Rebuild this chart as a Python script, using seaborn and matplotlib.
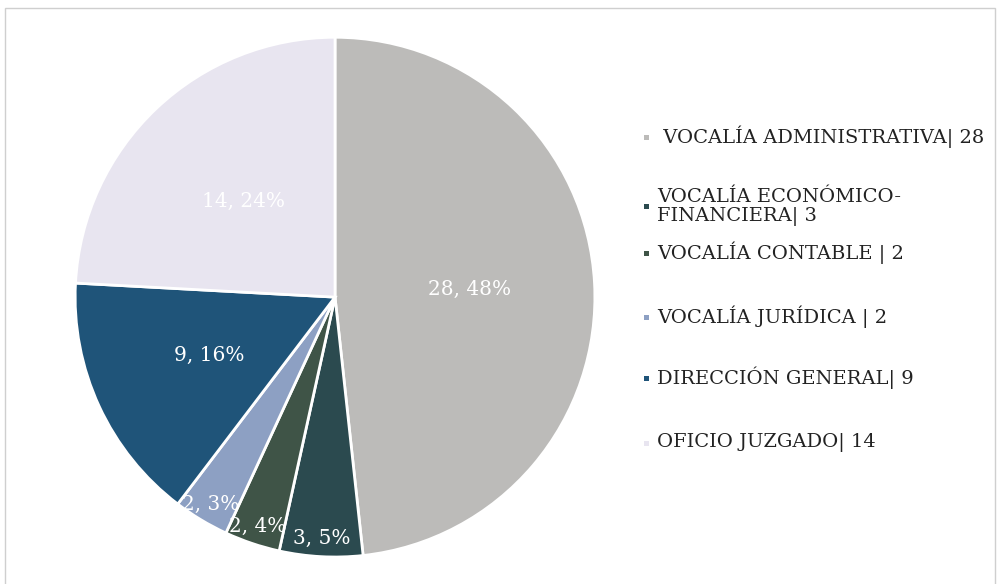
import matplotlib
matplotlib.use("Agg")
import matplotlib.pyplot as plt
import seaborn as sns
import numpy as np
from matplotlib.patches import Rectangle

sns.set_theme(style="white")
plt.rcParams['font.family'] = ['DejaVu Serif']

categories = [" VOCALÍA ADMINISTRATIVA| 28", "VOCALÍA ECONÓMICO-\nFINANCIERA| 3",
              "VOCALÍA CONTABLE | 2", "VOCALÍA JURÍDICA | 2",
              "DIRECCIÓN GENERAL| 9", "OFICIO JUZGADO| 14"]
values = [28, 3, 2, 2, 9, 14]
slice_labels = ["28, 48%", "3, 5%", "2, 4%", "2, 3%", "9, 16%", "14, 24%"]
colors = ["#bcbbb9", "#2b4a4f", "#3f5447", "#8da0c3", "#1f5479", "#e8e5f0"]

fig = plt.figure(figsize=(9.99, 5.84), dpi=100)
fig.patch.set_facecolor("white")
ax = fig.add_axes([0.0751, 0.0462, 0.5205, 0.890])
wedges, _ = ax.pie(values, colors=colors, startangle=90, counterclock=False,
                   wedgeprops=dict(edgecolor="white", linewidth=2))
ax.set_xlim(-1, 1)
ax.set_ylim(-1, 1)
ax.set_aspect("equal")
ax.axis("off")

label_r = [0.52, 0.93, 0.93, 0.93, 0.535, 0.51]
for w, lab, r in zip(wedges, slice_labels, label_r):
    ang = np.deg2rad((w.theta1 + w.theta2) / 2)
    ax.text(r * np.cos(ang), r * np.sin(ang), lab, ha="center", va="center",
            color="white", fontsize=14.5)

# legend
leg_y = [137, 207, 253, 317, 378, 443]
for cat, col, y in zip(categories, colors, leg_y):
    yf = 1 - y / 584
    fig.add_artist(Rectangle((644 / 999, yf - 2.5 / 584), 5 / 999, 5 / 584,
                             transform=fig.transFigure, facecolor=col, edgecolor="none"))
    fig.text(657 / 999, yf, cat, ha="left", va="center", fontsize=14,
             color="#222222", linespacing=1.05)

fig.add_artist(Rectangle((5 / 999, -5 / 584), 990 / 999, 581 / 584,
                         transform=fig.transFigure, fill=False, edgecolor="#cfcfcf", linewidth=1))

fig.savefig("out.png", dpi=100)
